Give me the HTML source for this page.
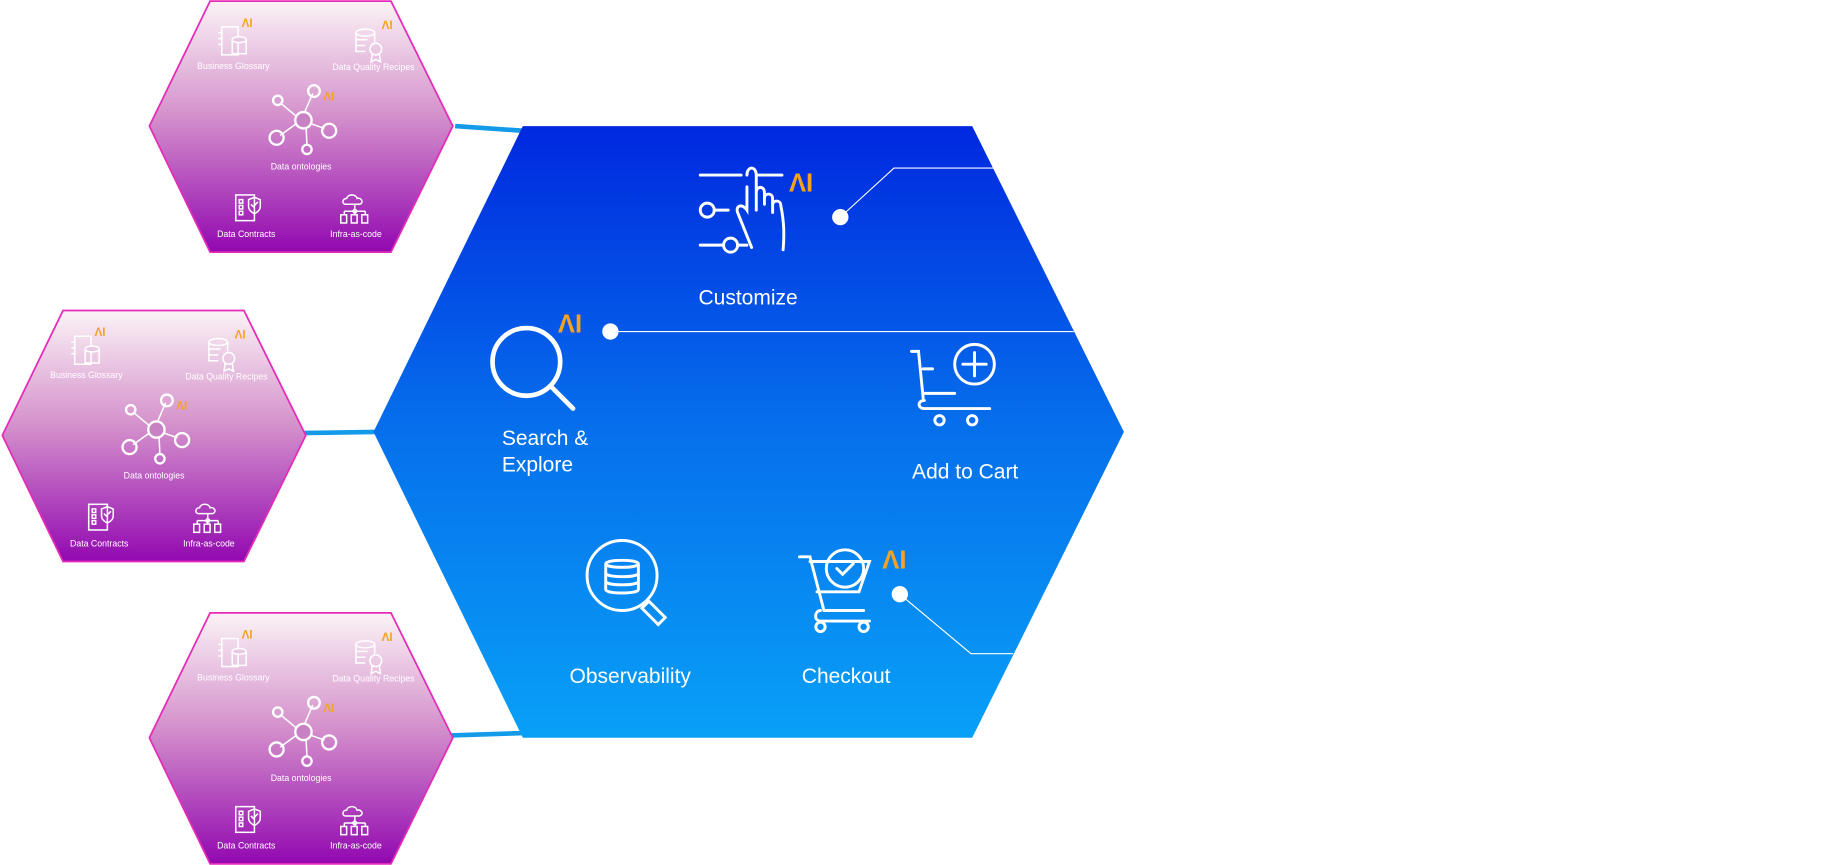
<!DOCTYPE html>
<html><head><meta charset="utf-8"><style>
html,body{margin:0;padding:0;background:#fff;width:1830px;height:865px;overflow:hidden}
svg{display:block}
text{font-family:"Liberation Sans",Arial,sans-serif}
</style></head><body>
<svg width="1830" height="865" viewBox="0 0 1568 741" preserveAspectRatio="none" xmlns="http://www.w3.org/2000/svg">
<defs>
<linearGradient id="pk" x1="0" y1="0" x2="0" y2="1">
<stop offset="0" stop-color="#fbf3f6"/><stop offset="0.45" stop-color="#d592cc"/><stop offset="1" stop-color="#9208b0"/>
</linearGradient>
<linearGradient id="bl" x1="0" y1="0" x2="0" y2="1">
<stop offset="0" stop-color="#0028df"/><stop offset="0.5" stop-color="#0670ec"/><stop offset="1" stop-color="#08a0f7"/>
</linearGradient>
<g id="sh">
<polygon points="180,1 335,1 388,108 335,216 180,216 128,108" fill="url(#pk)" stroke="#e62ab8" stroke-width="1.5"/>
<g fill="none" stroke="#fff" stroke-width="1.3">
<rect x="190" y="23" width="14" height="24"/><line x1="187" y1="28" x2="191" y2="28"/><line x1="187" y1="33" x2="191" y2="33"/><line x1="187" y1="38" x2="191" y2="38"/>
<ellipse cx="205" cy="34" rx="6" ry="2.5" fill="#e8c8e2"/><path d="M199 34v12h12V34"/>
<ellipse cx="313" cy="28" rx="8" ry="3"/><path d="M305 28v16h8M321 28v8M305 34h10M305 39h8"/><circle cx="322" cy="42" r="5"/><path d="M319 46l-1 7 4-2 4 2-1-7"/>
<line x1="258" y1="103" x2="240" y2="88"/><line x1="258" y1="103" x2="268" y2="80"/><line x1="258" y1="103" x2="240" y2="116"/><line x1="258" y1="103" x2="278" y2="110"/><line x1="262" y1="103" x2="263" y2="124"/>
<circle cx="260" cy="103" r="7" fill="#c881c3" stroke-width="2"/><circle cx="238" cy="86" r="4" stroke-width="2"/><circle cx="269" cy="78" r="5" stroke-width="2"/><circle cx="237" cy="118" r="6" stroke-width="2"/><circle cx="282" cy="112" r="6" stroke-width="2"/><circle cx="263" cy="128" r="4" stroke-width="2"/>
<rect x="202" y="167" width="16" height="22"/><rect x="205" y="171" width="3" height="3"/><rect x="205" y="176" width="3" height="3"/><rect x="205" y="181" width="3" height="3"/><path d="M213 171l5-2 5 2v6c0 4-5 6-5 6s-5-2-5-6z"/><path d="M215 175l2 2 4-4"/>
<path d="M296 175c-3 0-3-5 1-5 1-4 8-4 9 0 4-1 6 4 2 5z"/><line x1="304" y1="175" x2="304" y2="180"/><circle cx="304" cy="181" r="1.5"/><path d="M295 181h18M295 181v3M304 181v3M313 181v3"/><rect x="292" y="184" width="5" height="7"/><rect x="301" y="184" width="5" height="7"/><rect x="310" y="184" width="5" height="7"/>
</g>
<g fill="#f5a31f" font-size="10" font-weight="bold"><text x="207" y="23">ΛI</text><text x="327" y="25">ΛI</text><text x="277" y="86">ΛI</text></g>
<g fill="#fff" font-size="7.5" text-anchor="middle"><text x="200" y="59">Business Glossary</text><text x="320" y="60">Data Quality Recipes</text><text x="258" y="145">Data ontologies</text><text x="211" y="203">Data Contracts</text><text x="305" y="203">Infra-as-code</text></g>
</g>
</defs>
<g stroke="#139ae8" stroke-width="4"><line x1="390" y1="108" x2="448" y2="112"/><line x1="258" y1="371" x2="322" y2="370"/><line x1="386" y1="630" x2="448" y2="628"/></g>
<use href="#sh"/>
<use href="#sh" transform="translate(-126,265)"/>
<use href="#sh" transform="translate(0,524)"/>
<polygon points="448,108 833,108 963,370 833,632 448,632 320,370" fill="url(#bl)"/>
<g stroke="#fff" stroke-width="1" fill="none"><polyline points="720,186 766,144 852,144"/><line x1="523" y1="284" x2="920" y2="284"/><polyline points="771,509 832,560 868,560"/></g>
<g fill="#fff"><circle cx="720" cy="186" r="7"/><circle cx="523" cy="284" r="7"/><circle cx="771" cy="509" r="7"/></g>
<g fill="none" stroke="#fff" stroke-width="2.5" stroke-linecap="round">
<line x1="600" y1="150" x2="635" y2="150"/><line x1="650" y1="150" x2="670" y2="150"/>
<path d="M640 150c0-8 8-8 8 0v30M648 165c0-6 7-6 7 0v10M655 170c0-5 7-5 7 0v12M662 176c0-5 7-5 7 0c3 15 3 25 2 38M640 160l0 20c-4-6-10-4-8 2l12 30"/>
<circle cx="606" cy="180" r="6"/><line x1="612" y1="180" x2="624" y2="180"/>
<line x1="600" y1="210" x2="619" y2="210"/><circle cx="626" cy="210" r="6"/><line x1="632" y1="210" x2="640" y2="210"/>
<circle cx="451" cy="310" r="29" stroke-width="4"/><line x1="472" y1="331" x2="491" y2="350" stroke-width="4"/>
<path d="M781 301h6l4 40M791 316h8M792 343c-6 0-6 7 0 7h56M791 337h27"/><circle cx="835" cy="312" r="17"/><path d="M835 302v20M825 312h20"/><circle cx="805" cy="360" r="4"/><circle cx="833" cy="360" r="4"/>
<circle cx="533" cy="493" r="30"/><path d="M519 483v22c0 4 28 4 28 0V483M519 483c0-4 28-4 28 0s-28 4-28 0M519 491c0 4 28 4 28 0M519 498c0 4 28 4 28 0"/><path d="M556 515l14 14-6 6-14-14z"/>
<path d="M685 477h9l12 46h34M694 481l51 0-9 26h-36M703 523c-5 0-6 9 0 9h42"/><circle cx="724" cy="487" r="16"/><path d="M717 487l5 5 9-9"/><circle cx="703" cy="537" r="4"/><circle cx="740" cy="537" r="4"/>
</g>
<g fill="#f5a31f" font-size="22" font-weight="bold"><text x="676" y="164">ΛI</text><text x="478" y="285">ΛI</text><text x="756" y="487">ΛI</text></g>
<g fill="#fff" font-size="18"><text x="641" y="261" text-anchor="middle">Customize</text><text x="430" y="381">Search &amp;</text><text x="430" y="404">Explore</text><text x="827" y="410" text-anchor="middle">Add to Cart</text><text x="540" y="585" text-anchor="middle">Observability</text><text x="725" y="585" text-anchor="middle">Checkout</text></g>
</svg>
</body></html>
